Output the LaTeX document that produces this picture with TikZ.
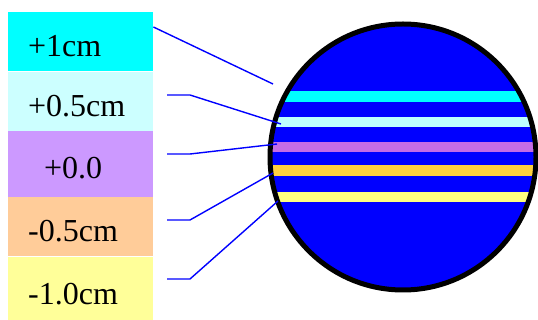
\documentclass[tikz,border=0pt]{standalone}
\usepackage{fontspec}
\setmainfont{Liberation Serif}
\usetikzlibrary{positioning}

\definecolor{boxcyan}{RGB}{0,255,255}
\definecolor{boxpale}{RGB}{204,255,255}
\definecolor{boxlilac}{RGB}{204,153,255}
\definecolor{boxpeach}{RGB}{255,204,153}
\definecolor{boxlemon}{RGB}{255,255,153}
\definecolor{bandpale}{RGB}{190,255,255}
\definecolor{bandlilac}{RGB}{196,108,230}
\definecolor{bandgold}{RGB}{255,208,64}
\definecolor{bandlemon}{RGB}{255,255,128}

\begin{document}
\begin{tikzpicture}[
    x=1pt, y=-1pt,
    node distance=0pt,
    depthbox/.style={rectangle, minimum width=145pt, text width=145pt,
        inner sep=0pt, align=left, text height=30pt, text depth=0pt,
        font=\fontsize{32}{36}\selectfont,
        execute at begin node=\hspace*{20pt}},
    lead/.style={blue, line width=1.4pt}
]
\useasboundingbox (0,0) rectangle (538,320);

% Depth boxes
\node[depthbox, fill=boxcyan, minimum height=59pt, anchor=north west] (plus1) at (8,12) {+1cm};
\node[depthbox, fill=boxpale, minimum height=59pt, below=of plus1] (plus05) {+0.5cm};
\node[depthbox, fill=boxlilac, minimum height=66pt, below=of plus05] (zero) {\hspace*{16pt}+0.0};
\node[depthbox, fill=boxpeach, minimum height=59pt, below=of zero] (minus05) {-0.5cm};
\node[depthbox, fill=boxlemon, minimum height=65pt, below=of minus05] (minus10) {-1.0cm};

% Disc with bands
\fill[blue] (403,157) circle (133pt);
\begin{scope}
    \clip (403,157) circle (133pt);
    \fill[boxcyan] (260,91) rectangle (540,102);
    \fill[bandpale] (260,117) rectangle (540,127);
    \fill[bandlilac] (260,142) rectangle (540,152);
    \fill[bandgold] (260,165) rectangle (540,176);
    \fill[bandlemon] (260,192) rectangle (540,202);
\end{scope}
\draw[black, line width=5pt] (403,157) circle (133pt);

% Band ends and line starts
\coordinate (b1) at (273,84);
\coordinate (b2) at (281,124);
\coordinate (b3) at (277,144);
\coordinate (b4) at (273,173);
\coordinate (b5) at (278,201);
\coordinate (t2) at (167,95);
\coordinate (t3) at (167,154);
\coordinate (t4) at (167,220);
\coordinate (t5) at (167,279);

% Leader lines
\draw[lead] ([yshift=-15pt]plus1.north east) -- (b1);
\draw[lead] (t2) -- ++(23,0) -- (b2);
\draw[lead] (t3) -- ++(23,0) -- (b3);
\draw[lead] (t4) -- ++(23,0) -- (b4);
\draw[lead] (t5) -- ++(23,0) -- (b5);

\end{tikzpicture}
\end{document}
